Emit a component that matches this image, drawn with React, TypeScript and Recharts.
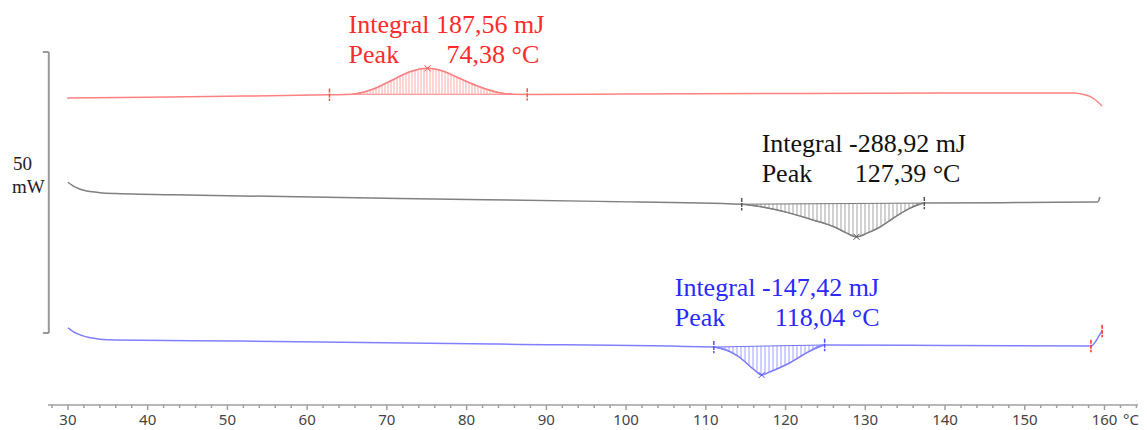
import {
  ComposedChart,
  Line,
  Area,
  XAxis,
  YAxis,
  ReferenceLine,
  ReferenceDot,
} from 'recharts'

// temperature (°C) vs heat flow (mW)
const redCurve = [
  { t: 29.9, p: 54.58 }, { t: 40, p: 54.72 }, { t: 50, p: 54.88 }, { t: 62.8, p: 55.15 },
  { t: 65.7, p: 55.24 }, { t: 68.2, p: 56.12 }, { t: 70.7, p: 57.78 }, { t: 72.9, p: 59.25 },
  { t: 75.1, p: 59.86 }, { t: 77.0, p: 59.38 }, { t: 79.1, p: 58.08 }, { t: 81.6, p: 56.59 },
  { t: 84.1, p: 55.52 }, { t: 85.8, p: 55.24 }, { t: 87.6, p: 55.22 }, { t: 100, p: 55.3 },
  { t: 120, p: 55.38 }, { t: 140, p: 55.45 }, { t: 156.2, p: 55.47 }, { t: 157.4, p: 55.2 },
  { t: 158.1, p: 54.9 }, { t: 158.7, p: 54.4 }, { t: 159.7, p: 53.16 },
]

const blackCurve = [
  { t: 30.0, p: 39.6 }, { t: 30.6, p: 39.0 }, { t: 31.3, p: 38.5 }, { t: 32.1, p: 38.15 },
  { t: 33.0, p: 37.9 }, { t: 34.0, p: 37.75 }, { t: 36.0, p: 37.6 }, { t: 46.5, p: 37.3 },
  { t: 71.6, p: 36.7 }, { t: 96.7, p: 36.2 }, { t: 114.5, p: 35.7 },
  { t: 117.1, p: 35.2 }, { t: 120.3, p: 34.2 }, { t: 123.4, p: 32.9 }, { t: 126.2, p: 31.6 },
  { t: 127.6, p: 30.6 }, { t: 128.9, p: 29.9 }, { t: 130.3, p: 30.6 }, { t: 131.8, p: 31.6 },
  { t: 133.5, p: 33.2 }, { t: 135.1, p: 34.6 }, { t: 137.4, p: 35.9 }, { t: 150, p: 36.0 },
  { t: 159.1, p: 36.1 }, { t: 159.3, p: 36.4 }, { t: 159.4, p: 36.98 },
]

const blueCurve = [
  { t: 30.0, p: 13.7 }, { t: 30.6, p: 13.1 }, { t: 31.3, p: 12.6 }, { t: 32.1, p: 12.2 },
  { t: 33.0, p: 11.9 }, { t: 34.0, p: 11.7 }, { t: 36.0, p: 11.55 }, { t: 51.6, p: 11.38 },
  { t: 84.1, p: 10.84 }, { t: 111.0, p: 10.3 }, { t: 114.2, p: 8.53 },
  { t: 116.1, p: 6.22 }, { t: 117.0, p: 5.33 }, { t: 118.0, p: 5.87 }, { t: 120.5, p: 7.47 },
  { t: 122.6, p: 9.24 }, { t: 124.9, p: 10.67 }, { t: 140, p: 10.6 }, { t: 158.3, p: 10.49 },
  { t: 159.0, p: 11.56 }, { t: 159.3, p: 12.27 }, { t: 159.7, p: 13.16 },
]

// integrated areas: baseline (lo) and signal (hi)
const redHatch = [
  { t: 65.7, lo: 55.24, hi: 55.24 }, { t: 68.2, lo: 55.24, hi: 56.12 }, { t: 70.7, lo: 55.24, hi: 57.78 },
  { t: 72.9, lo: 55.24, hi: 59.25 }, { t: 75.1, lo: 55.24, hi: 59.86 }, { t: 77.0, lo: 55.24, hi: 59.38 },
  { t: 79.1, lo: 55.24, hi: 58.08 }, { t: 81.6, lo: 55.24, hi: 56.59 }, { t: 84.1, lo: 55.24, hi: 55.52 },
  { t: 85.8, lo: 55.24, hi: 55.24 },
]

const blackHatch = [
  { t: 114.5, lo: 35.7, hi: 35.7 }, { t: 117.1, lo: 35.72, hi: 35.2 }, { t: 120.3, lo: 35.75, hi: 34.2 },
  { t: 123.4, lo: 35.78, hi: 32.9 }, { t: 126.2, lo: 35.8, hi: 31.6 }, { t: 127.6, lo: 35.81, hi: 30.6 },
  { t: 128.9, lo: 35.83, hi: 29.9 }, { t: 130.3, lo: 35.84, hi: 30.6 }, { t: 131.8, lo: 35.85, hi: 31.6 },
  { t: 133.5, lo: 35.87, hi: 33.2 }, { t: 135.1, lo: 35.88, hi: 34.6 }, { t: 137.4, lo: 35.9, hi: 35.9 },
]

const blueHatch = [
  { t: 111.0, lo: 10.3, hi: 10.3 }, { t: 114.2, lo: 10.39, hi: 8.53 }, { t: 116.1, lo: 10.44, hi: 6.22 },
  { t: 117.0, lo: 10.47, hi: 5.33 }, { t: 118.0, lo: 10.5, hi: 5.87 }, { t: 120.5, lo: 10.56, hi: 7.47 },
  { t: 122.6, lo: 10.61, hi: 9.24 }, { t: 124.9, lo: 10.67, hi: 10.67 },
]

const limitMarks = [
  { t: 62.8, p: 55.15, color: '#ff5050' }, { t: 87.6, p: 55.22, color: '#ff5050' },
  { t: 114.5, p: 35.7, color: '#555' }, { t: 137.4, p: 35.9, color: '#555' },
  { t: 111.0, p: 10.3, color: '#5050ff' }, { t: 124.9, p: 10.67, color: '#5050ff' },
  { t: 158.3, p: 10.49, color: '#ff3030' }, { t: 159.7, p: 13.16, color: '#ff3030' },
]

const peaks = [
  { t: 75.1, p: 59.86, color: '#ff5050' },
  { t: 128.9, p: 29.9, color: '#555' },
  { t: 117.0, p: 5.33, color: '#5050ff' },
]

const annotations = [
  { t: 65.2, p: 66.13, color: '#ff2a2a', integral: 'Integral 187,56 mJ', peak: '74,38 °C', gap: 98 },
  { t: 117.0, p: 44.98, color: '#111', integral: 'Integral -288,92 mJ', peak: '127,39 °C', gap: 93 },
  { t: 106.1, p: 19.38, color: '#2a2aff', integral: 'Integral -147,42 mJ', peak: '118,04 °C', gap: 100 },
]

const tempTicks = [
  28, 30, 32, 34, 36, 38, 40, 42, 44, 46, 48, 50, 52, 54, 56, 58, 60, 62, 64, 66, 68, 70,
  72, 74, 76, 78, 80, 82, 84, 86, 88, 90, 92, 94, 96, 98, 100, 102, 104, 106, 108, 110,
  112, 114, 116, 118, 120, 122, 124, 126, 128, 130, 132, 134, 136, 138, 140, 142, 144,
  146, 148, 150, 152, 154, 156, 158, 160, 162, 164,
]
const labelledTicks = [30, 40, 50, 60, 70, 80, 90, 100, 110, 120, 130, 140, 150, 160]

// 50 mW scale bar
const scaleBar = { t: 27.6, top: 62.76, bottom: 12.8, tickEnd: 26.85 }
const scaleLabel = { t: 23.1, p: 41.78, value: '50', unit: 'mW' }

const SERIF = '"Liberation Serif", "Times New Roman", serif'
const SANS = '"Noto Sans", sans-serif'

const TempTick = (props: any) => {
  const { x, y, payload } = props
  const major = labelledTicks.includes(payload.value)
  return (
    <g>
      <line x1={x} x2={x} y1={y} y2={y + (major ? 5 : 3)} stroke="#a0a0a0" strokeWidth={1.5} />
      {major && (
        <text x={x} y={y + 20} textAnchor="middle" fill="#444" fontSize={15} fontFamily={SANS}>
          {payload.value}
        </text>
      )}
    </g>
  )
}

const PeakMark = ({ cx, cy, color }: any) => (
  <g stroke={color} strokeWidth={1}>
    <line x1={cx - 3} y1={cy - 3} x2={cx + 3} y2={cy + 3} />
    <line x1={cx - 3} y1={cy + 3} x2={cx + 3} y2={cy - 3} />
  </g>
)

const Annotation = ({ cx, cy, a }: any) => (
  <g fill={a.color} fontFamily={SERIF} fontSize={26}>
    <text x={cx} y={cy}>{a.integral}</text>
    <text x={cx} y={cy + 30}>Peak</text>
    <text x={cx + a.gap} y={cy + 30}>{a.peak}</text>
  </g>
)

export default function App() {
  return (
    <div style={{ position: 'absolute', left: 0, top: 0, background: '#fff' }}>
      <ComposedChart width={1147} height={430} margin={{ top: 0, right: 9, bottom: 0, left: 48 }}>
        <defs>
          <pattern id="hatchRed" width="3" height="8" patternUnits="userSpaceOnUse">
            <line x1="1" x2="1" y1="0" y2="8" stroke="#ff7070" strokeWidth="1" />
          </pattern>
          <pattern id="hatchBlack" width="4" height="8" patternUnits="userSpaceOnUse">
            <line x1="1" x2="1" y1="0" y2="8" stroke="#666" strokeWidth="1" />
          </pattern>
          <pattern id="hatchBlue" width="4" height="8" patternUnits="userSpaceOnUse">
            <line x1="1" x2="1" y1="0" y2="8" stroke="#6060ff" strokeWidth="1" />
          </pattern>
        </defs>
        <XAxis
          type="number"
          dataKey="t"
          domain={[27.5, 164.2]}
          allowDataOverflow
          ticks={tempTicks}
          interval={0}
          height={25}
          tickSize={0}
          tickMargin={0}
          tickLine={false}
          tick={<TempTick />}
          axisLine={{ stroke: '#a0a0a0', strokeWidth: 1.5 }}
          label={{
            content: (props: any) => {
              const vb = props.viewBox
              return (
                <text x={vb.x + vb.width - 15} y={vb.y + 20} fill="#444" fontSize={15} fontFamily={SANS}>
                  °C
                </text>
              )
            },
          }}
        />
        <YAxis type="number" domain={[0, 72]} hide allowDataOverflow />

        <Area data={redHatch} dataKey={(d: any) => [d.lo, d.hi]} type="monotone" fill="url(#hatchRed)" stroke="#ff8080" strokeWidth={1} isAnimationActive={false} />
        <Area data={blackHatch} dataKey={(d: any) => [d.lo, d.hi]} type="monotone" fill="url(#hatchBlack)" stroke="#777" strokeWidth={1} isAnimationActive={false} />
        <Area data={blueHatch} dataKey={(d: any) => [d.lo, d.hi]} type="monotone" fill="url(#hatchBlue)" stroke="#7070ff" strokeWidth={1} isAnimationActive={false} />

        <Line data={redCurve} dataKey="p" type="monotone" stroke="#ff8080" strokeWidth={1.5} dot={false} activeDot={false} isAnimationActive={false} />
        <Line data={blackCurve} dataKey="p" type="monotone" stroke="#808080" strokeWidth={1.5} dot={false} activeDot={false} isAnimationActive={false} />
        <Line data={blueCurve} dataKey="p" type="monotone" stroke="#8080ff" strokeWidth={1.5} dot={false} activeDot={false} isAnimationActive={false} />

        {limitMarks.map((m, i) => (
          <ReferenceLine
            key={`lim-${i}`}
            segment={[{ x: m.t, y: m.p + 1.1 }, { x: m.t, y: m.p - 1.1 }]}
            stroke={m.color}
            strokeWidth={1.5}
            strokeDasharray="4 1"
          />
        ))}
        {peaks.map((m, i) => (
          <ReferenceDot key={`pk-${i}`} x={m.t} y={m.p} r={3} shape={(p: any) => <PeakMark cx={p.cx} cy={p.cy} color={m.color} />} />
        ))}
        {annotations.map((a, i) => (
          <ReferenceDot key={`an-${i}`} x={a.t} y={a.p} r={1} shape={(p: any) => <Annotation cx={p.cx} cy={p.cy} a={a} />} />
        ))}

        <ReferenceLine segment={[{ x: scaleBar.t, y: scaleBar.top }, { x: scaleBar.t, y: scaleBar.bottom }]} stroke="#999" strokeWidth={2} ifOverflow="visible" />
        <ReferenceLine segment={[{ x: scaleBar.tickEnd, y: scaleBar.top }, { x: scaleBar.t, y: scaleBar.top }]} stroke="#999" strokeWidth={2} ifOverflow="visible" />
        <ReferenceLine segment={[{ x: scaleBar.tickEnd, y: scaleBar.bottom }, { x: scaleBar.t, y: scaleBar.bottom }]} stroke="#999" strokeWidth={2} ifOverflow="visible" />
        <ReferenceDot
          x={scaleLabel.t}
          y={scaleLabel.p}
          r={1}
          ifOverflow="visible"
          shape={(p: any) => (
            <g fill="#222" fontFamily={SERIF} fontSize={19}>
              <text x={p.cx} y={p.cy}>{scaleLabel.value}</text>
              <text x={p.cx - 1} y={p.cy + 23}>{scaleLabel.unit}</text>
            </g>
          )}
        />
      </ComposedChart>
    </div>
  )
}
